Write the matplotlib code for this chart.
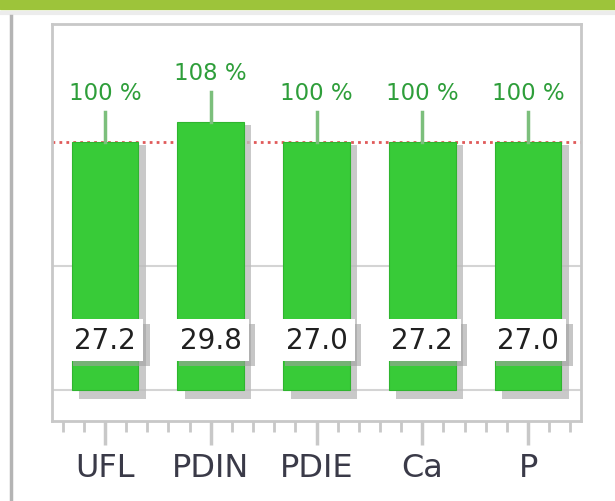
import numpy as np
import matplotlib.pyplot as plt
from matplotlib.patches import Rectangle
from matplotlib.lines import Line2D

# Data
categories = ['UFL', 'PDIN', 'PDIE', 'Ca', 'P']
percent = [100, 108, 100, 100, 100]
values = [27.2, 29.8, 27.0, 27.2, 27.0]

bar_color = '#38cb38'
x = np.arange(len(categories))
bw = 0.63

fig = plt.figure(figsize=(6.15, 5.02), dpi=100)
ax = fig.add_axes([52 / 615, 80 / 502, 529 / 615, 397 / 502])

# top band and outer frame line
fig.patches.append(Rectangle((0, 492 / 502), 1, 10 / 502, transform=fig.transFigure,
                             color='#9dc43a', zorder=0))
fig.lines.append(Line2D([0, 1], [488 / 502, 488 / 502], transform=fig.transFigure,
                        color='#ececec', lw=3))
fig.lines.append(Line2D([11 / 615, 11 / 615], [0, 485 / 502], transform=fig.transFigure,
                        color='#b4b4b4', lw=2.5))

ax.set_xlim(-0.5, 4.5)
ax.set_ylim(-12.5, 147.6)

# gridlines and target line
for g in [0, 50]:
    ax.axhline(g, color='#d4d4d4', lw=1.5, zorder=1)
ax.axhline(100, color='#e05a5a', lw=2, ls=(0, (1, 1.5)), zorder=1)

# bar shadows
for xi, p in zip(x, percent):
    ax.add_patch(Rectangle((xi - bw / 2 + 0.07, -3.5), bw, p + 2.5, color='#bcbcbc',
                           alpha=0.8, lw=0, zorder=2))
ax.bar(x, percent, width=bw, color=bar_color, edgecolor='#2fb52f', lw=0.8, zorder=3)

# stems and percentage labels
for xi, p in zip(x, percent):
    ax.plot([xi, xi], [p, p + 12], color='#7cbf7c', lw=2.5, zorder=3)
    ax.text(xi, p + 20, f'{p} %', ha='center', va='center', fontsize=16.5,
            color='#2e9e3a', zorder=4)

# value boxes
bx = 0.724
for xi, v in zip(x, values):
    ax.add_patch(Rectangle((xi - bx / 2 + 0.06, 9.5), bx, 17, color='#a0a0a0',
                           alpha=0.6, lw=0, zorder=4))
    ax.add_patch(Rectangle((xi - bx / 2, 11.7), bx, 17, facecolor='white',
                           edgecolor='none', zorder=5))
    ax.text(xi, 20, f'{v:.1f}', ha='center', va='center', fontsize=20,
            color='#202020', zorder=6)

# axes styling
for s in ax.spines.values():
    s.set_color('#c8c8c8')
    s.set_linewidth(2)
ax.set_yticks([])
ax.set_xticks(x)
ax.set_xticklabels(categories, fontsize=23, color='#3a3a48')
ax.set_xticks(np.arange(-0.4, 4.41, 0.2), minor=True)
ax.tick_params(axis='x', which='major', length=17, width=2.5, color='#c8c8c8', pad=5)
ax.tick_params(axis='x', which='minor', length=8, width=2, color='#c8c8c8')

fig.savefig('out.png', dpi=100)
